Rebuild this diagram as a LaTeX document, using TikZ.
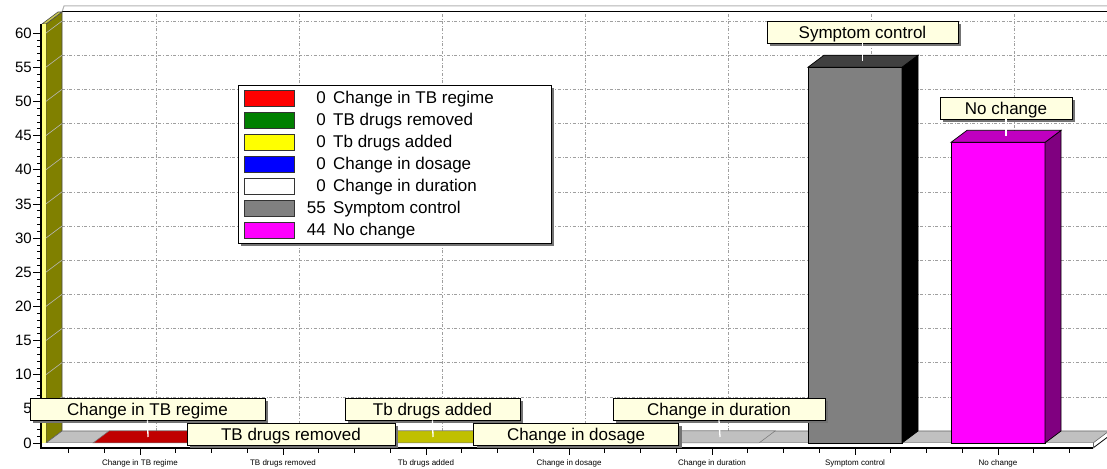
\documentclass[tikz,border=0pt]{standalone}
\usepackage{fontspec}
\setmainfont{Liberation Sans}
\usetikzlibrary{shadows}
\definecolor{tagfill}{HTML}{FFFFE1}
\definecolor{floorgrey}{HTML}{C0C0C0}
\definecolor{wallside}{HTML}{808000}
\definecolor{wallfront}{HTML}{FFFF80}
\definecolor{walltop}{HTML}{C8C850}
\definecolor{redtop}{HTML}{C00000}
\definecolor{greentop}{HTML}{006000}
\definecolor{yellowtop}{HTML}{C0C000}
\definecolor{bluetop}{HTML}{0000C0}
\definecolor{whitetop}{HTML}{C0C0C0}
\definecolor{greyfront}{HTML}{808080}
\definecolor{greytop}{HTML}{404040}
\definecolor{greyside}{HTML}{000000}
\definecolor{magfront}{HTML}{FF00FF}
\definecolor{magtop}{HTML}{C000C0}
\definecolor{magside}{HTML}{800080}
\definecolor{legred}{HTML}{FF0000}
\definecolor{leggreen}{HTML}{008000}
\definecolor{legyellow}{HTML}{FFFF00}
\definecolor{legblue}{HTML}{0000FF}
\newcommand\lblfont{\fontsize{17}{20}\selectfont}
\tikzset{
    gridline/.style={gray!75,dash dot,line width=0.6pt},
    wallline/.style={gray!55,line width=0.6pt},
    tag/.style={draw=black,fill=tagfill,line width=0.8pt,minimum height=22pt,inner sep=0pt,font=\lblfont,
        text height=13pt,text depth=0.8pt,
        drop shadow={shadow xshift=3pt,shadow yshift=-3pt,fill=black!55,opacity=1}},
    leader/.style={white,line width=1.3pt},
    swatch/.style={draw=black!80,line width=0.8pt,minimum width=50pt,minimum height=16pt,inner sep=0pt},
    legtext/.style={font=\lblfont,inner sep=0pt},
    ylbl/.style={anchor=east,inner sep=0pt,font=\fontsize{15}{17}\selectfont},
    xlbl/.style={inner sep=0pt,font=\fontsize{8}{9}\selectfont}
}

\begin{document}
\begin{tikzpicture}[x=1pt,y=1pt]
    \useasboundingbox (0,0) rectangle (1107,468);

    % back wall
    \draw[gray!60,line width=1pt] (62,456) -- (64,462) -- (1107,462);
    \draw[black,line width=1pt] (62,456) -- (1107,456);
    \foreach \v in {5,10,...,60} {
        \pgfmathsetmacro\yy{25+\v*6.833}
        \draw[gridline] (62,{\yy+12}) -- (1107,{\yy+12});
    }
    \foreach \i in {0,...,6}
        \draw[gridline] ({156+143*\i},37) -- ({156+143*\i},456);

    % left wall
    \filldraw[fill=wallside,draw=black!70,line width=0.6pt] (46,25) -- (62,37) -- (62,456) -- (46,444) -- cycle;
    \filldraw[fill=walltop,draw=black!70,line width=0.6pt] (42,444) -- (46,444) -- (62,456) -- (58,456) -- cycle;
    \fill[wallfront] (42,20) rectangle (46,444);
    \foreach \v in {5,10,...,60} {
        \pgfmathsetmacro\yy{25+\v*6.833}
        \draw[wallline] (46,\yy) -- (62,{\yy+12});
    }
    \draw[line width=2pt] (41,19) -- (41,444);

    % y axis
    \foreach \v in {0,...,60}
        \draw[line width=0.6pt] (37,{25+\v*6.833}) -- (41,{25+\v*6.833});
    \foreach \v in {0,5,...,60} {
        \draw[line width=0.6pt] (33,{25+\v*6.833}) -- (41,{25+\v*6.833});
        \node[ylbl] (y\v) at (32,{25+\v*6.833}) {\v};
    }

    % floor
    \filldraw[fill=floorgrey,draw=black!60,line width=0.6pt] (46,25) -- (1093,25) -- (1109,37) -- (62,37) -- cycle;
    \fill[white] (42,20) rectangle (1093,25);
    \draw[line width=2pt] (41,20) -- (1093,20);
    \draw[line width=0.8pt] (1093,20) -- (1109,32);
    \draw[black!60,line width=0.6pt] (1093,25) -- (1093,20);

    % x axis
    \foreach \k in {0,...,28}
        \draw[line width=0.6pt] ({68.5+35.75*\k},19) -- ++(0,-4);
    \foreach \i/\txt in {0/Change in TB regime,1/TB drugs removed,2/Tb drugs added,3/Change in dosage,
                         4/Change in duration,5/Symptom control,6/No change} {
        \draw[line width=0.6pt] ({140+143*\i},19) -- ++(0,-6);
        \node[xlbl] (x\i) at ({140+143*\i},5) {\txt};
    }

    % flat bars (value 0)
    \foreach \i/\tp in {0/redtop,1/greentop,2/yellowtop,3/bluetop,4/whitetop}
        \filldraw[fill=\tp,draw=black!55,line width=0.5pt]
            ({93+143*\i},25) -- ++(94,0) -- ++(16,12) -- ++(-94,0) -- cycle;

    % tall bars
    \foreach \i/\v/\fr/\tp/\sd in {5/55/greyfront/greytop/greyside,6/44/magfront/magtop/magside} {
        \pgfmathsetmacro\cx{140+143*\i}
        \pgfmathsetmacro\yt{25+\v*6.833}
        \filldraw[fill=\fr,draw=black,line width=0.7pt] ({\cx-47},25) rectangle ({\cx+47},\yt);
        \filldraw[fill=\sd,draw=black,line width=0.7pt] ({\cx+47},25) -- ({\cx+63},37) -- ({\cx+63},{\yt+12}) -- ({\cx+47},\yt) -- cycle;
        \filldraw[fill=\tp,draw=black,line width=0.7pt] ({\cx-47},\yt) -- ({\cx+47},\yt) -- ({\cx+63},{\yt+12}) -- ({\cx-31},{\yt+12}) -- cycle;
    }

    % labels
    \node[tag,minimum width=235pt] (tag regime)   at (147.5,59)  {Change in TB regime};
    \node[tag,minimum width=175pt] (tag added)    at (432.5,59)  {Tb drugs added};
    \node[tag,minimum width=212pt] (tag duration) at (719,59)    {Change in duration};
    \node[tag,minimum width=191pt] (tag symptom)  at (862.5,436) {Symptom control};
    \node[tag,minimum width=132pt] (tag nochange) at (1006,360)  {No change};
    \draw[leader] (tag regime.south)   -- (148,31);
    \draw[leader] (tag added.south)    -- (433,31);
    \draw[leader] (tag duration.south) -- (720,31);
    \draw[leader] (tag symptom.south)  -- (862.5,{25+55*6.833+6});
    \draw[leader] (tag nochange.south) -- (1006,{25+44*6.833+6});
    \node[tag,minimum width=208pt] (tag removed)  at (291,34)    {TB drugs removed};
    \node[tag,minimum width=205pt] (tag dosage)   at (576,34)    {Change in dosage};

    % legend
    \node[draw=black,fill=white,line width=0.8pt,minimum width=313pt,minimum height=158pt,inner sep=0pt,
          drop shadow={shadow xshift=3pt,shadow yshift=-3pt,fill=black!55,opacity=1}] (legend) at (394.5,304) {};
    \foreach \k/\n/\col/\txt in {0/0/legred/Change in TB regime,1/0/leggreen/TB drugs removed,
                                 2/0/legyellow/Tb drugs added,3/0/legblue/Change in dosage,
                                 4/0/white/Change in duration,5/55/greyfront/Symptom control,
                                 6/44/magfront/No change} {
        \node[swatch,fill=\col] (sw\k) at (269,{370-22*\k}) {};
        \node[legtext,anchor=base east] (num\k) at (326,{364-22*\k}) {\n};
        \node[legtext,anchor=base west] (txt\k) at (333,{364-22*\k}) {\txt};
    }
\end{tikzpicture}
\end{document}
